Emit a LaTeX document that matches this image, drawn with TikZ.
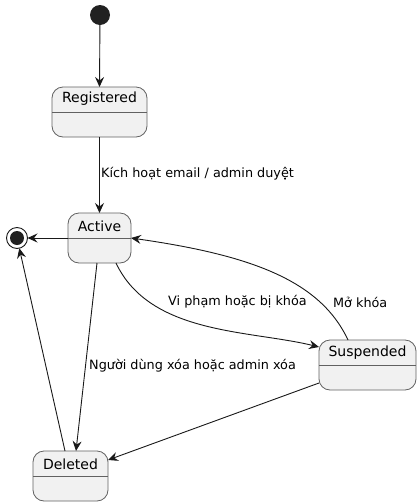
\documentclass[tikz,border=0pt]{standalone}
\usepackage{fontspec}
\setmainfont{DejaVu Sans}
\usetikzlibrary{arrows.meta}
\tikzset{
    statebox/.style={draw=boxline,fill=boxfill,line width=0.8pt,rounded corners=11pt,minimum height=50pt,inner sep=0pt,outer sep=0pt},
    statetitle/.style={inner sep=0pt,font=\fontsize{14}{16}\selectfont},
    lbl/.style={inner sep=0pt,anchor=west,font=\fontsize{12.8}{15}\selectfont},
    trans/.style={draw=edge,line width=0.9pt,-{Stealth[length=10pt,width=9pt,inset=3.5pt]}}
}

\begin{document}
\begin{tikzpicture}[x=1pt,y=-1pt]
                \colorlet{boxfill}{black!5.5}
                \colorlet{boxline}{black!62}
                \colorlet{edge}{black!90}
                \colorlet{dot}{black!87}
                \useasboundingbox (0,0) rectangle (419,504);

                % states
                \node [statebox,minimum width=95pt] (reg) at (99.5,112) {};
                \node [statebox,minimum width=63pt] (act) at (99.5,238) {};
                \node [statebox,minimum width=97pt] (susp) at (367.5,365) {};
                \node [statebox,minimum width=75pt] (del) at (70.5,476) {};
                \draw [boxline,line width=0.8pt] (reg.west) -- (reg.east);
                \draw [boxline,line width=0.8pt] (act.west) -- (act.east);
                \draw [boxline,line width=0.8pt] (susp.west) -- (susp.east);
                \draw [boxline,line width=0.8pt] (del.west) -- (del.east);
                \node [statetitle] (regT) at (99.5,99) {Registered};
                \node [statetitle] (actT) at (99.5,226) {Active};
                \node [statetitle] (suspT) at (367.5,353) {Suspended};
                \node [statetitle] (delT) at (70.5,464) {Deleted};

                % start and end
                \node [circle,fill=dot,minimum size=20pt,inner sep=0pt,outer sep=0pt] (init) at (100,15) {};
                \node [circle,draw=edge,line width=0.9pt,fill=white,minimum size=21pt,inner sep=0pt,outer sep=0pt] (fin) at (17,238) {};
                \node [circle,fill=dot,minimum size=14pt,inner sep=0pt] (finDot) at (17,238) {};

                % transitions
                \path [trans] (init) -- (reg.north);
                \path [trans] (reg.south) -- (act.north);
                \path [trans] (act.west) -- (fin);
                \path [trans] ([xshift=16.5pt]act.south)
                    .. controls (150,335) and (250,330) .. ([yshift=18pt]susp.west);
                \path [trans] ([xshift=-19.5pt]susp.north)
                    .. controls (320,280) and (250,255) .. (act.east);
                \path [trans] ([xshift=-2.5pt]act.south) -- ([xshift=5.5pt]del.north);
                \path [trans] ([xshift=-5.5pt]del.north) -- (fin);
                \path [trans] ([yshift=-18pt]susp.west) -- ([yshift=16pt]del.east);

                % labels
                \node [lbl] (lblReg) at (101,174) {Kích hoạt email / admin duyệt};
                \node [lbl] (lblSusp) at (168,302) {Vi phạm hoặc bị khóa};
                \node [lbl] (lblOpen) at (333,302) {Mở khóa};
                \node [lbl] (lblDel) at (89,366) {Người dùng xóa hoặc admin xóa};
\end{tikzpicture}
\end{document}
